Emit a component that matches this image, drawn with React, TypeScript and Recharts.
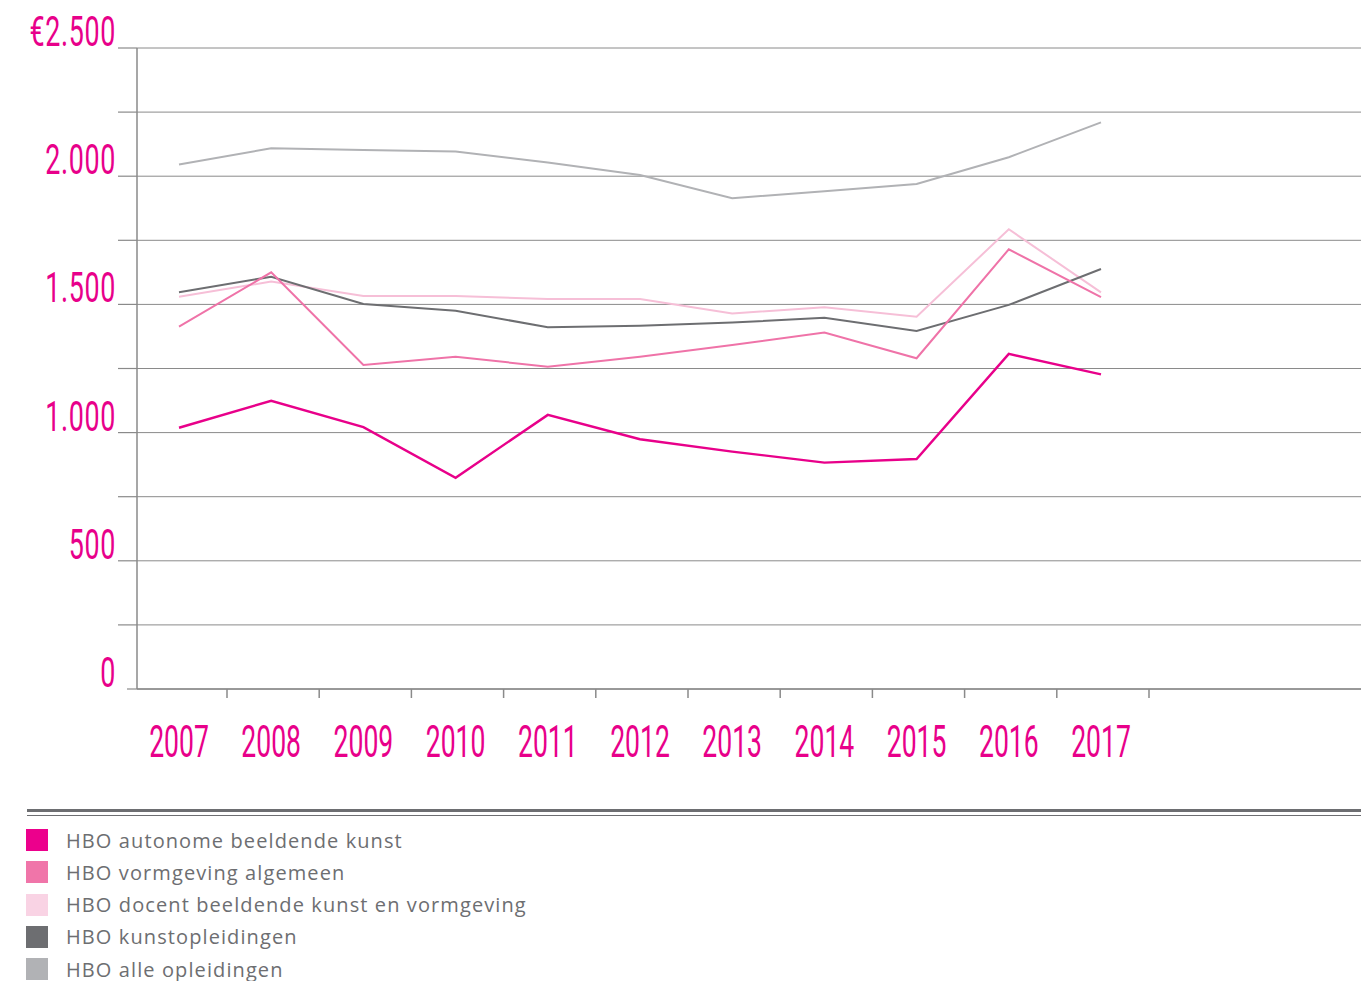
import { LineChart, Line, XAxis, YAxis, CartesianGrid } from 'recharts';

const years = [2007, 2008, 2009, 2010, 2011, 2012, 2013, 2014, 2015, 2016, 2017];

const autonome = [1019, 1124, 1021, 824, 1069, 974, 926, 883, 897, 1307, 1227];
const vormgeving = [1413, 1625, 1264, 1296, 1257, 1296, 1342, 1390, 1290, 1715, 1528];
const docent = [1530, 1589, 1533, 1533, 1521, 1521, 1465, 1489, 1452, 1793, 1547];
const kunstopleidingen = [1547, 1608, 1502, 1475, 1411, 1417, 1429, 1448, 1396, 1498, 1638];
const alleOpleidingen = [2046, 2109, 2102, 2096, 2053, 2005, 1914, 1941, 1970, 2074, 2210];

const yTicks = [0, 250, 500, 750, 1000, 1250, 1500, 1750, 2000, 2250, 2500];

const series = [
  { key: 'alle', name: 'HBO alle opleidingen', values: alleOpleidingen, color: '#b1b2b5', swatch: '#b1b2b5', width: 2 },
  { key: 'docent', name: 'HBO docent beeldende kunst en vormgeving', values: docent, color: '#f6bfd7', swatch: '#f9d3e4', width: 2 },
  { key: 'kunst', name: 'HBO kunstopleidingen', values: kunstopleidingen, color: '#6d6e71', swatch: '#6d6e71', width: 2 },
  { key: 'vormgeving', name: 'HBO vormgeving algemeen', values: vormgeving, color: '#ef73a8', swatch: '#f075a9', width: 2 },
  { key: 'autonome', name: 'HBO autonome beeldende kunst', values: autonome, color: '#e8008a', swatch: '#ec008c', width: 2.4 },
];

const legendOrder = ['autonome', 'vormgeving', 'docent', 'kunst', 'alle'];

const data = years.map((year, i) => {
  const row: Record<string, number> = { year };
  series.forEach((s) => {
    row[s.key] = s.values[i];
  });
  return row;
});

const PINK = '#e8008a';
const GRID = '#8a8a8a';
const LABEL_FONT = 'Roboto, "Liberation Sans", sans-serif';

function YTick(props: any) {
  const { x, y, payload } = props;
  const v = payload.value as number;
  const lineStart = v === 0 ? x - 10 : x - 19;
  let label = '';
  if (v % 500 === 0) {
    label = v === 0 ? '0' : v.toLocaleString('nl-NL');
    if (v === 2500) label = '€' + label;
  }
  return (
    <g>
      <line x1={lineStart} y1={y} x2={x} y2={y} stroke={GRID} strokeWidth={1.2} />
      {label && (
        <text
          transform={`translate(${x - 21},${y - 2}) scale(0.64,1)`}
          textAnchor="end"
          fontFamily={LABEL_FONT}
          fontWeight={400}
          fontSize={42}
          letterSpacing={1}
          fill={PINK}
        >
          {label}
        </text>
      )}
    </g>
  );
}

function XTick(props: any) {
  const { x, y, payload } = props;
  return (
    <g>
      <line x1={x + 48} y1={y} x2={x + 48} y2={y + 9} stroke={GRID} strokeWidth={1.5} />
      <text
        transform={`translate(${x},${y + 68}) scale(0.59,1)`}
        textAnchor="middle"
        fontFamily={LABEL_FONT}
        fontWeight={400}
        fontSize={45}
        fill={PINK}
      >
        {payload.value}
      </text>
    </g>
  );
}

export default function App() {
  const legendItems = legendOrder.map((k) => series.find((s) => s.key === k)!);
  return (
    <div style={{ position: 'absolute', left: 0, top: 0, width: 1361, height: 981, background: '#fff' }}>
      <LineChart
        width={1361}
        height={981}
        data={data}
        margin={{ top: 48, right: 0, bottom: 212, left: 0 }}
      >
        <CartesianGrid horizontal vertical={false} stroke={GRID} strokeWidth={1} />
        <XAxis
          dataKey="year"
          type="number"
          domain={[2006.5445, 2019.82]}
          ticks={years}
          allowDataOverflow
          height={80}
          tickSize={0}
          tickMargin={0}
          tickLine={false}
          interval={0}
          axisLine={{ stroke: GRID, strokeWidth: 1.5 }}
          tick={<XTick />}
        />
        <YAxis
          type="number"
          domain={[0, 2500]}
          ticks={yTicks}
          interval={0}
          width={137}
          tickSize={0}
          tickMargin={0}
          tickLine={false}
          axisLine={{ stroke: GRID, strokeWidth: 1.5 }}
          tick={<YTick />}
        />
        {series.map((s) => (
          <Line
            key={s.key}
            type="linear"
            dataKey={s.key}
            name={s.name}
            stroke={s.color}
            strokeWidth={s.width}
            dot={false}
            activeDot={false}
            isAnimationActive={false}
          />
        ))}
      </LineChart>
      <div style={{ position: 'absolute', left: 27, top: 809, width: 1334, height: 3, background: '#6d6e71' }} />
      <div style={{ position: 'absolute', left: 27, top: 815, width: 1334, height: 1, background: '#6d6e71' }} />
      {legendItems.map((s, i) => (
        <div
          key={s.key}
          style={{
            position: 'absolute',
            left: 26,
            top: 829 + i * 32.3,
            height: 22,
            display: 'flex',
            alignItems: 'center',
            fontFamily: '"Open Sans", sans-serif',
            fontSize: 20,
            fontWeight: 500,
            letterSpacing: 1.1,
            color: '#6d6e71',
            whiteSpace: 'nowrap',
          }}
        >
          <span style={{ display: 'inline-block', width: 22, height: 22, background: s.swatch, marginRight: 18 }} />
          <span>{s.name}</span>
        </div>
      ))}
    </div>
  );
}
